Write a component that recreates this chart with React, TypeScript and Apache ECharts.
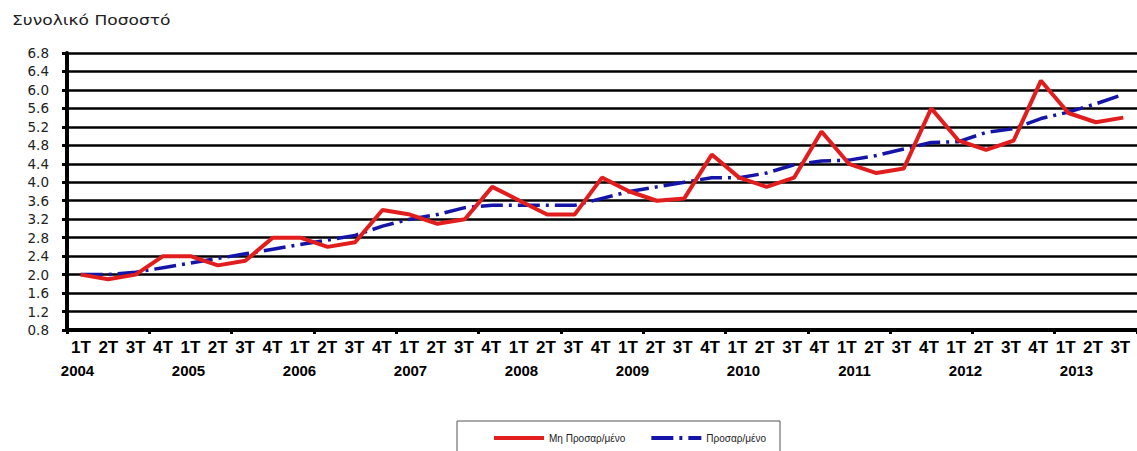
import React, { useEffect, useRef } from "react";
import * as echarts from "echarts";

const years = ["2004", "2005", "2006", "2007", "2008", "2009", "2010", "2011", "2012", "2013"];
const quarterNames = ["1T", "2T", "3T", "4T"];
const categories = years.flatMap((y) => quarterNames.map((q) => `${q} ${y}`)).slice(0, 39);

const seriesNames = ["Μη Προσαρ/μένο", "Προσαρ/μένο"];

// Μη Προσαρ/μένο (unadjusted)
const unadjusted = [
  2.0, 1.9, 2.0, 2.4,
  2.4, 2.2, 2.3, 2.8,
  2.8, 2.6, 2.7, 3.4,
  3.3, 3.1, 3.2, 3.9,
  3.6, 3.3, 3.3, 4.1,
  3.8, 3.6, 3.65, 4.6,
  4.1, 3.9, 4.1, 5.1,
  4.4, 4.2, 4.3, 5.6,
  4.9, 4.7, 4.9, 6.2,
  5.5, 5.3, 5.4,
];

// Προσαρ/μένο (seasonally adjusted)
const adjusted = [
  2.0, 2.0, 2.05, 2.15,
  2.25, 2.35, 2.45, 2.55,
  2.65, 2.75, 2.85, 3.05,
  3.2, 3.3, 3.45, 3.5,
  3.5, 3.5, 3.5, 3.65,
  3.8, 3.9, 4.0, 4.1,
  4.1, 4.2, 4.38, 4.46,
  4.48, 4.58, 4.72, 4.86,
  4.88, 5.08, 5.16, 5.38,
  5.52, 5.7, 5.9,
];

const yMin = 0.8;
const yMax = 6.8;
const yStep = 0.4;

const narrowFont = "'Liberation Sans Narrow', 'Arial Narrow', 'Liberation Sans', Arial, sans-serif";
const blueDash = [22, 6, 3, 6];

export default function App() {
  const ref = useRef<HTMLDivElement>(null);

  useEffect(() => {
    if (!ref.current) return;
    const chart = echarts.init(ref.current, undefined, { renderer: "svg" });
    const option: any = {
      animation: false,
      backgroundColor: "#ffffff",
      graphic: [
        {
          type: "text",
          x: 12,
          y: 14,
          scaleX: 1.22,
          style: {
            text: "Συνολικό Ποσοστό",
            font: "14px 'DejaVu Sans'",
            fill: "#222222",
            verticalAlign: "top",
            textVerticalAlign: "top",
          },
        },
      ],
      legend: {
        left: 457,
        top: 421,
        orient: "horizontal",
        data: seriesNames,
        itemWidth: 50,
        itemHeight: 10,
        itemGap: 24,
        padding: [12, 14, 12, 35],
        borderColor: "#555555",
        borderWidth: 1,
        itemStyle: { opacity: 0 },
        lineStyle: { width: 4 },
        textStyle: { fontSize: 10, fontFamily: "'Liberation Sans', Arial, sans-serif", color: "#222222" },
      },
      grid: [
        { left: 67, top: 53, width: 1080.3, height: 277 },
        { left: 67.3, top: 53, width: 1066.7, height: 277 },
        { left: 22, top: 53, width: 1110, height: 277 },
      ],
      xAxis: [
        {
          gridIndex: 0,
          type: "category",
          data: categories,
          boundaryGap: true,
          axisLine: { lineStyle: { color: "#000000", width: 4 } },
          axisTick: { show: true, length: 4, lineStyle: { color: "#000000", width: 3 } },
          axisLabel: { show: false },
          splitLine: { show: false },
          z: 5,
        },
        {
          gridIndex: 1,
          type: "category",
          data: categories,
          axisLine: { show: false },
          axisTick: { show: false },
          splitLine: { show: false },
          axisLabel: {
            interval: 0,
            margin: 9,
            formatter: (v: string) => v.split(" ")[0],
            fontFamily: narrowFont,
            fontWeight: "bold",
            fontSize: 17,
            color: "#000000",
          },
        },
        {
          gridIndex: 2,
          type: "category",
          data: years,
          axisLine: { show: false },
          axisTick: { show: false },
          splitLine: { show: false },
          axisLabel: {
            interval: 0,
            margin: 33,
            fontFamily: "'Liberation Sans', Arial, sans-serif",
            fontWeight: "bold",
            fontSize: 15,
            color: "#000000",
          },
        },
      ],
      yAxis: [
        {
          gridIndex: 0,
          type: "value",
          min: yMin,
          max: yMax,
          interval: yStep,
          axisLine: { show: true, lineStyle: { color: "#000000", width: 4 } },
          axisTick: { show: true, length: 5, lineStyle: { color: "#000000", width: 3 } },
          axisLabel: {
            formatter: (v: number) => v.toFixed(1),
            margin: 18,
            fontSize: 13.5,
            fontFamily: "'DejaVu Sans', Verdana, sans-serif",
            color: "#222222",
          },
          splitLine: { show: true, lineStyle: { color: "#000000", width: 2.6 } },
        },
        { gridIndex: 1, type: "value", show: false, min: yMin, max: yMax, splitLine: { show: false } },
        { gridIndex: 2, type: "value", show: false, min: yMin, max: yMax, splitLine: { show: false } },
      ],
      series: [
        {
          name: seriesNames[1],
          type: "line",
          xAxisIndex: 0,
          yAxisIndex: 0,
          data: adjusted,
          symbol: "none",
          z: 3,
          lineStyle: { color: "#1414a8", width: 3.5, type: blueDash },
          itemStyle: { color: "#1414a8" },
        },
        {
          name: seriesNames[0],
          type: "line",
          xAxisIndex: 0,
          yAxisIndex: 0,
          data: unadjusted,
          symbol: "none",
          z: 4,
          lineStyle: { color: "#e21d1d", width: 4 },
          itemStyle: { color: "#e21d1d" },
        },
      ],
    };
    chart.setOption(option);
    return () => chart.dispose();
  }, []);

  return (
    <div
      ref={ref}
      style={{ position: "absolute", left: 0, top: 0, width: 1137, height: 451, background: "#fff" }}
    />
  );
}
